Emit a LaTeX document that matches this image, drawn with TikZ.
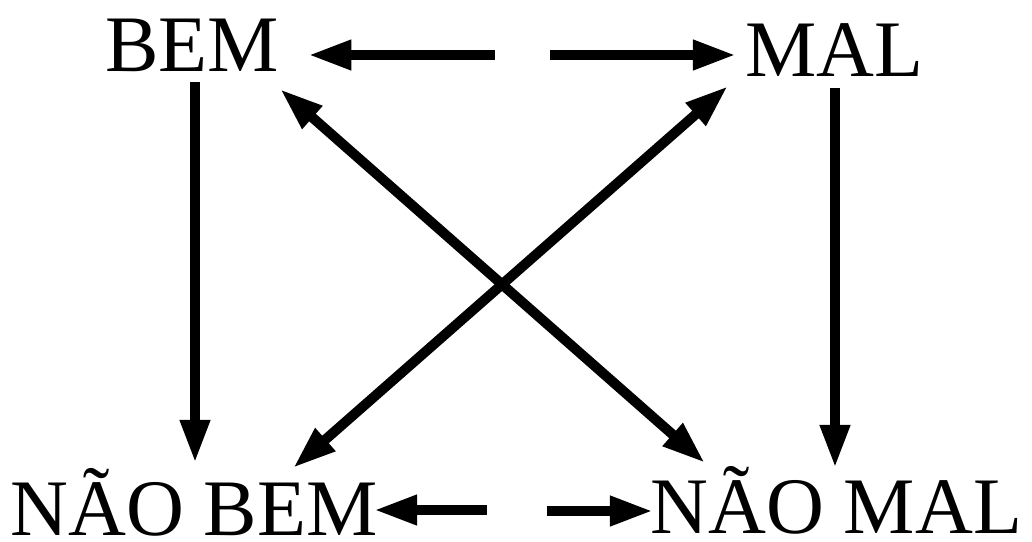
\documentclass[tikz,border=0pt]{standalone}
\usepackage{fontspec}
\setmainfont{Liberation Serif}
\usetikzlibrary{arrows.meta}

\tikzset{
  term/.style={inner sep=0pt,anchor=base west,font=\fontsize{57}{60}\selectfont},
  rel/.style={line width=0.25cm,-{Triangle[length=1.08cm,width=0.7cm]}},
  relboth/.style={rel,{Triangle[length=1.08cm,width=0.7cm]}-{Triangle[length=1.08cm,width=0.7cm]}},
}

\begin{document}
\begin{tikzpicture}[x=0.025cm,y=-0.025cm]
  \useasboundingbox (0,0) rectangle (1032,541);
  % the four terms
  \node[term] (bem) at (105,71) {BEM};
  \node[term] (mal) at (745,76) {MAL};
  \node[term] (naobem) at (10,535) {NÃO BEM};
  \node[term] (naomal) at (650,533) {NÃO MAL};
  % free ends of the split arrows
  \coordinate (topl) at (495,55);
  \coordinate (topr) at (550,55);
  \coordinate (botl) at (487,510);
  \coordinate (botr) at (547,511);
  % contraries and subcontraries
  \draw[rel] (topl) -- ([shift={(29,-16)}]bem.base east);
  \draw[rel] (topr) -- ([shift={(-9,-21)}]mal.base west);
  \draw[rel] (botl) -- ([shift={(-4,-25)}]naobem.base east);
  \draw[rel] (botr) -- ([shift={(3,-22)}]naomal.base west);
  % implications
  \draw[rel] ([shift={(90,11)}]bem.base west) -- ([shift={(185,-72)}]naobem.base west);
  \draw[rel] ([shift={(90,12)}]mal.base west) -- ([shift={(185,-65)}]naomal.base west);
  % contradictories
  \draw[relboth] ([shift={(175,18)}]bem.base west) -- ([shift={(55,-70)}]naomal.base west);
  \draw[relboth] ([shift={(-17,10)}]mal.base west) -- ([shift={(283,-67)}]naobem.base west);
\end{tikzpicture}
\end{document}
